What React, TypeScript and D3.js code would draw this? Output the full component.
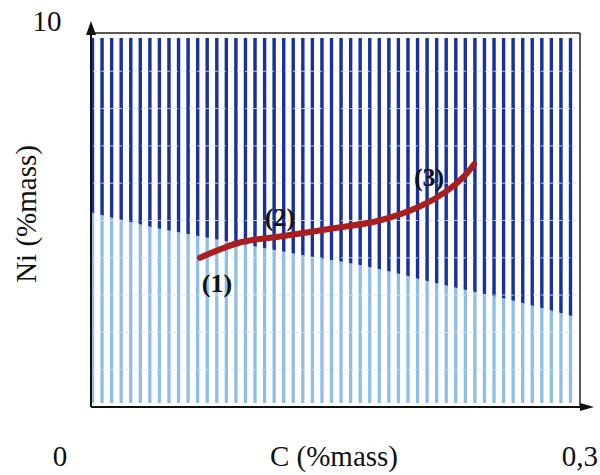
import React from "react";
import * as d3 from "d3";

// Axis extents (C %mass on x, Ni %mass on y)
const xDomain = [0, 0.3];
const yDomain = [0, 10];
const gridLevels = [1, 2, 3, 4, 5, 6, 7, 8, 9];
const stripeCount = 51;

// Boundary between dark (upper) and light (lower) region
const boundaryC = [0, 0.036, 0.072, 0.119, 0.179, 0.209, 0.263, 0.3];
const boundaryNi = [5.22, 4.84, 4.54, 4.16, 3.68, 3.35, 2.81, 2.38];

// Red curve
const curveC = [0.0669, 0.0914, 0.116, 0.147, 0.177, 0.202, 0.218, 0.229, 0.235];
const curveNi = [4.0, 4.41, 4.57, 4.78, 5.0, 5.38, 5.78, 6.19, 6.51];

// Curve labels
const labelText = ["(1)", "(2)", "(3)"];
const labelC = [0.0773, 0.1159, 0.2074];
const labelNi = [3.3, 5.08, 6.16];

const tickLabels = ["0", "0,3", "10"];
const xTitle = "C (%mass)";
const yTitle = "Ni (%mass)";

export default function App() {
  const W = 600, H = 475;
  const left = 91, right = 580, top = 34, bottom = 407;
  const x = d3.scaleLinear().domain(xDomain).range([left, right]);
  const y = d3.scaleLinear().domain(yDomain).range([bottom, top]);

  const stripeStart = 92.5, stripeEnd = 570.5;
  const stripeStep = (stripeEnd - stripeStart) / (stripeCount - 1);
  const stripes = d3.range(stripeCount).map((i) => stripeStart + i * stripeStep);
  const sw = 3.3;

  const boundary = boundaryC.map((c, i) => [c, boundaryNi[i]] as [number, number]);
  const darkArea = d3
    .area<[number, number]>()
    .x((d) => x(d[0]))
    .y0(() => top - 5)
    .y1((d) => y(d[1]))
    .curve(d3.curveMonotoneX);

  const curvePts = curveC.map((c, i) => [c, curveNi[i]] as [number, number]);
  const line = d3
    .line<[number, number]>()
    .x((d) => x(d[0]))
    .y((d) => y(d[1]))
    .curve(d3.curveCatmullRom);

  const serif = "Times New Roman, Liberation Serif, Times, serif";
  const fs = 29;

  return (
    <svg width={W} height={H} style={{ position: "absolute", left: 0, top: 0, background: "#fff" }}>
      <defs>
        <clipPath id="darkClip">
          <path d={darkArea(boundary) || ""} />
        </clipPath>
      </defs>
      {/* light stripes */}
      <g>
        {stripes.map((sx, i) => (
          <rect key={"l" + i} x={sx - sw / 2} y={38} width={sw} height={403 - 38} fill="#8fbde8" />
        ))}
      </g>
      {/* dark stripes */}
      <g clipPath="url(#darkClip)">
        {stripes.map((sx, i) => (
          <rect key={"d" + i} x={sx - sw / 2} y={38} width={sw} height={403 - 38} fill="#1d2f99" />
        ))}
      </g>
      {/* faint grid */}
      <g>
        {gridLevels.map((g) => (
          <line
            key={g}
            x1={left + 2}
            x2={right - 2}
            y1={y(g)}
            y2={y(g)}
            stroke="#dde5ef"
            strokeWidth={1}
            strokeDasharray="5 3"
            opacity={0.8}
          />
        ))}
      </g>
      {/* frame */}
      <line x1={left} x2={right} y1={top - 1} y2={top - 1} stroke="#222" strokeWidth={1.5} />
      <line x1={right} x2={right} y1={top - 1} y2={bottom} stroke="#222" strokeWidth={1.5} />
      {/* y axis with arrow */}
      <line x1={left} x2={left} y1={bottom} y2={28} stroke="#111" strokeWidth={2} />
      <path d={`M${left},21 L${left - 5},35 L${left + 5},35 Z`} fill="#111" />
      {/* x axis with arrow */}
      <line x1={left} x2={586} y1={bottom} y2={bottom} stroke="#111" strokeWidth={2} />
      <path d={`M594,${bottom} L580,${bottom - 4} L580,${bottom + 4} Z`} fill="#111" />

      {/* red curve */}
      <path
        d={line(curvePts) || ""}
        fill="none"
        stroke="#a81f1d"
        strokeWidth={6}
        strokeLinecap="round"
      />

      {/* curve labels */}
      {labelText.map((t, i) => (
        <text
          key={t}
          x={x(labelC[i])}
          y={y(labelNi[i])}
          textAnchor="middle"
          dominantBaseline="central"
          fontFamily={serif}
          fontWeight="bold"
          fontSize={26}
          fill="#111"
        >
          {t}
        </text>
      ))}

      {/* tick labels */}
      <text x={60} y={466} textAnchor="middle" fontFamily={serif} fontSize={fs} fill="#111">
        {tickLabels[0]}
      </text>
      <text x={598} y={466} textAnchor="end" fontFamily={serif} fontSize={fs} fill="#111">
        {tickLabels[1]}
      </text>
      <text x={47} y={31} textAnchor="middle" fontFamily={serif} fontSize={fs} fill="#111">
        {tickLabels[2]}
      </text>

      {/* axis titles */}
      <text x={334} y={466} textAnchor="middle" fontFamily={serif} fontSize={fs} fill="#111">
        {xTitle}
      </text>
      <text
        transform={`translate(36,214) rotate(-90)`}
        textAnchor="middle"
        fontFamily={serif}
        fontSize={fs}
        fill="#111"
      >
        {yTitle}
      </text>
    </svg>
  );
}
